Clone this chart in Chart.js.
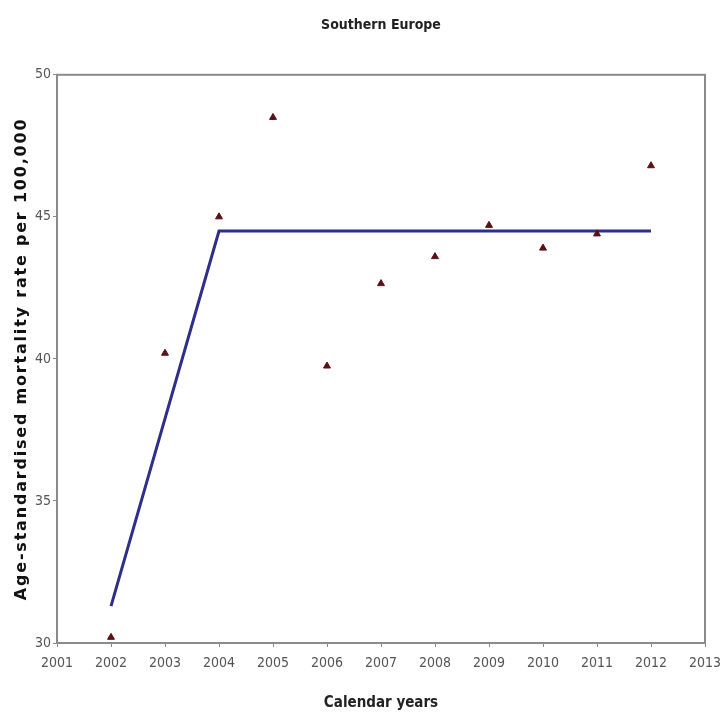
<!DOCTYPE html>
<html>
<head>
<meta charset="utf-8">
<script src="https://cdn.jsdelivr.net/npm/chart.js@4.4.1/dist/chart.umd.min.js"></script>
<style>
  html, body { margin: 0; padding: 0; background: #fff; }
  #wrap { width: 720px; height: 716px; }
</style>
</head>
<body>
<div id="wrap"><canvas id="c" width="720" height="716"></canvas></div>
<script>
const years = [2002, 2003, 2004, 2005, 2006, 2007, 2008, 2009, 2010, 2011, 2012];
const rates = [30.2, 40.2, 45.0, 48.5, 39.75, 42.65, 43.6, 44.7, 43.9, 44.4, 46.8];
const fitYears = [2002, 2004, 2012];
const fitRates = [31.3, 44.5, 44.5];
const xTicks = [2001, 2002, 2003, 2004, 2005, 2006, 2007, 2008, 2009, 2010, 2011, 2012, 2013];
const yTicks = [30, 35, 40, 45, 50];

const NARROW = "'DejaVu Sans Condensed', 'Liberation Sans', sans-serif";

const frame = {
  id: 'frame',
  afterDraw(chart) {
    const a = chart.chartArea, ctx = chart.ctx;
    ctx.save();
    ctx.strokeStyle = '#8a8a8a';
    ctx.lineWidth = 2;
    ctx.strokeRect(a.left, a.top, a.right - a.left, a.bottom - a.top);
    ctx.restore();
  }
};

new Chart(document.getElementById('c'), {
  type: 'scatter',
  data: {
    datasets: [
      {
        label: 'Fit',
        data: fitYears.map((x, i) => ({ x, y: fitRates[i] })),
        showLine: true,
        borderColor: '#2f2f8a',
        borderWidth: 3,
        pointRadius: 0,
        fill: false,
        order: 2
      },
      {
        label: 'Observed',
        data: years.map((x, i) => ({ x, y: rates[i] })),
        pointStyle: 'triangle',
        pointRadius: 4,
        backgroundColor: '#5a1014',
        borderColor: '#5a1014',
        borderWidth: 1,
        order: 1
      }
    ]
  },
  options: {
    responsive: false,
    animation: false,
    layout: { padding: { left: 0, right: 15, top: 0, bottom: 0 } },
    plugins: {
      legend: { display: false },
      tooltip: { enabled: false },
      title: {
        display: true,
        text: 'Southern Europe',
        fullSize: false,
        color: '#222',
        font: { family: NARROW, weight: 'bold', size: 14 },
        padding: { top: 17, bottom: 41 }
      }
    },
    scales: {
      x: {
        type: 'linear',
        min: 2001,
        max: 2013,
        afterBuildTicks(scale) { scale.ticks = xTicks.map(v => ({ value: v })); },
        afterFit(scale) { scale.height = 73; scale.paddingLeft = 0; scale.paddingRight = 0; },
        grid: { display: true, drawOnChartArea: false, drawTicks: true, tickLength: 4, color: '#8a8a8a' },
        border: { display: false },
        ticks: {
          color: '#555',
          padding: 8,
          font: { family: NARROW, size: 14 },
          callback: v => String(v),
          maxRotation: 0,
          autoSkip: false
        },
        title: {
          display: true,
          text: 'Calendar years',
          color: '#222',
          font: { family: NARROW, weight: 'bold', size: 15 },
          padding: { top: 0, bottom: 4 }
        }
      },
      y: {
        min: 30,
        max: 50,
        afterBuildTicks(scale) { scale.ticks = yTicks.map(v => ({ value: v })); },
        afterFit(scale) {
          scale.width = 57;
          scale.paddingTop = 0; scale.paddingBottom = 0;
          if (!scale._lsPatched) {
            const orig = scale.drawTitle;
            scale.drawTitle = function (area) {
              const ctx = this.ctx;
              ctx.save();
              ctx.letterSpacing = '1.8px';
              orig.call(this, area);
              ctx.restore();
            };
            scale._lsPatched = true;
          }
        },
        grid: { display: true, drawOnChartArea: false, drawTicks: true, tickLength: 4, color: '#8a8a8a' },
        border: { display: false },
        ticks: {
          color: '#555',
          padding: 2,
          font: { family: NARROW, size: 14 },
          callback: v => String(v)
        },
        title: {
          display: true,
          text: 'Age-standardised mortality rate per 100,000',
          color: '#111',
          font: { family: "'DejaVu Sans', sans-serif", weight: 'bold', size: 16 },
          padding: { top: 12, bottom: 0 }
        }
      }
    }
  },
  plugins: [frame]
});
</script>
</body>
</html>
